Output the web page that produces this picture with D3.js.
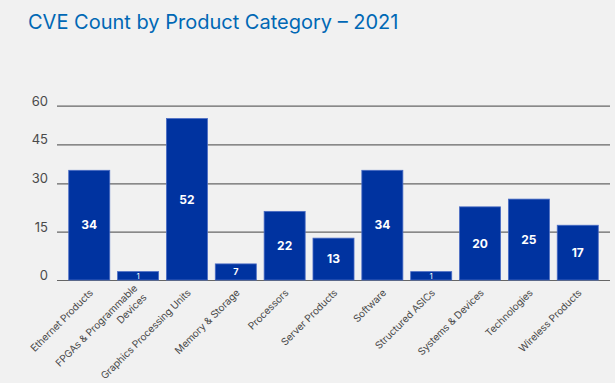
<!DOCTYPE html>
<html>
<head>
<meta charset="utf-8">
<script src="https://d3js.org/d3.v7.min.js"></script>
<style>
  body { margin: 0; background: #f1f1f1; }
  svg { display: block; font-family: Inter, "Noto Sans", sans-serif; }
</style>
</head>
<body>
<div id="chart"></div>
<script>
// categories, shown labels and bar heights as drawn in the picture
const categories = [
  "Ethernet Products", "FPGAs & Programmable|Devices", "Graphics Processing Units",
  "Memory & Storage", "Processors", "Server Products", "Software",
  "Structured ASICs", "Systems & Devices", "Technologies", "Wireless Products"
];
const counts = [34, 1, 52, 7, 22, 13, 34, 1, 20, 25, 17];
const barHeights = [35, 2.6, 55, 5, 21.3, 13, 35, 2.6, 22.7, 25.1, 17];
const yTicks = [0, 15, 30, 45, 60];

const width = 615, height = 383;
const svg = d3.select("#chart").append("svg")
  .attr("width", width).attr("height", height);

svg.append("rect").attr("width", width).attr("height", height).attr("fill", "#f1f1f1");

svg.append("text")
  .attr("x", 28).attr("y", 29)
  .attr("fill", "#0068b5")
  .attr("font-size", 20)
  .text("CVE Count by Product Category \u2013 2021");

const x = d3.scaleBand()
  .domain(categories)
  .range([57, 610])
  .paddingInner(0.16)
  .paddingOuter(0.24);

// the gridlines in the source are not evenly spaced
const y = d3.scaleLinear()
  .domain(yTicks)
  .range([280, 231.7, 183.3, 144.3, 105.7]);

const yAxis = svg.append("g")
  .attr("transform", "translate(57,0)")
  .call(d3.axisLeft(y).tickValues(yTicks).tickSize(-553).tickPadding(9).tickFormat(d3.format("d")));
yAxis.select(".domain").remove();
yAxis.selectAll(".tick line").attr("stroke", "#666").attr("stroke-width", 1.2);
yAxis.selectAll(".tick text")
  .attr("fill", "#4a4a4a").attr("font-size", 13)
  .attr("font-family", "Inter, 'Noto Sans', sans-serif")
  .attr("dy", "-0.05em");

svg.selectAll("rect.bar")
  .data(categories)
  .join("rect")
  .attr("class", "bar")
  .attr("x", d => x(d))
  .attr("width", x.bandwidth())
  .attr("y", (d, i) => y(barHeights[i]))
  .attr("height", (d, i) => y(0) - y(barHeights[i]))
  .attr("fill", "#0033a0")
  .attr("stroke", "#4a6cc4")
  .attr("stroke-width", 0.8);

svg.selectAll("text.val")
  .data(categories)
  .join("text")
  .attr("class", "val")
  .attr("x", d => x(d) + x.bandwidth() / 2)
  .attr("y", (d, i) => (y(barHeights[i]) + y(0)) / 2)
  .attr("dy", "0.36em")
  .attr("text-anchor", "middle")
  .attr("fill", "#fff")
  .attr("font-weight", (d, i) => counts[i] < 5 ? 400 : 700)
  .attr("font-size", (d, i) => counts[i] < 5 ? 8 : counts[i] < 10 ? 9 : 12)
  .text((d, i) => counts[i]);

const labels = svg.selectAll("g.xlab")
  .data(categories)
  .join("g")
  .attr("class", "xlab")
  .attr("transform", d => `translate(${x(d) + x.bandwidth() / 2 + 2},291) rotate(-45)`);

labels.append("text")
  .attr("text-anchor", "end")
  .attr("fill", "#4a4a4a")
  .attr("font-size", 10)
  .attr("letter-spacing", "-0.1")
  .each(function(d) {
    const lines = d.split("|");
    const t = d3.select(this);
    lines.forEach((ln, k) => {
      t.append("tspan")
        .attr("x", 0)
        .attr("y", (k - (lines.length - 1) / 2) * 13)
        .attr("dy", "0.35em")
        .text(ln);
    });
  });
</script>
</body>
</html>
